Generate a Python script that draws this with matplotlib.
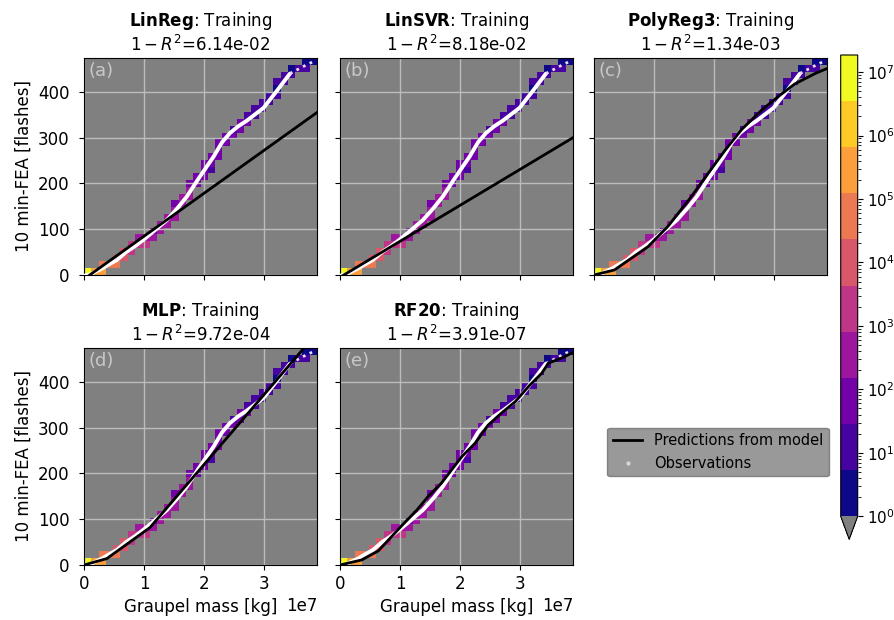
#!/usr/bin/env python3
# -*- coding: utf-8 -*-

'''Training fits of 10 min-FEA against graupel mass, five regression models.'''

##-Imports
import numpy as np
import matplotlib
matplotlib.use('Agg')
import matplotlib.pyplot as plt
from matplotlib.colors import ListedColormap, LogNorm
from matplotlib.lines import Line2D


##-Data
models = ['LinReg', 'LinSVR', 'PolyReg3', 'MLP', 'RF20']
scores = ['6.14e-02', '8.18e-02', '1.34e-03', '9.72e-04', '3.91e-07']
tags = ['(a)', '(b)', '(c)', '(d)', '(e)']

mass_max = 3.88e7
fea_max = 474.0
n_bins = 32

# observations (mass in 1e7 kg, flashes)
obs_mass = [0.03, 0.1, 0.2, 0.3, 0.4, 0.55, 0.7, 0.85, 1.0, 1.2, 1.38, 1.55, 1.71,
            1.93, 2.16, 2.3, 2.43, 2.57, 2.71, 2.99, 3.21, 3.43, 3.66, 3.8]
obs_fea = [0, 1, 8, 14, 22, 33, 50, 63, 78, 100, 120, 145, 171,
           215, 259, 290, 310, 325, 337, 365, 402, 440, 456, 465]

# 2D histogram of observations (column, row, count)
cell_col = [0, 1, 2, 2, 3, 4, 4, 5, 5, 6, 6, 7, 7, 8, 8, 9, 9, 10, 10, 11, 11,
            12, 12, 12, 13, 13, 14, 14, 14, 15, 15, 16, 16, 16, 17, 17, 17,
            18, 18, 18, 19, 19, 20, 20, 21, 21, 22, 22, 23, 23, 24, 24, 25, 25,
            26, 26, 26, 27, 27, 28, 28, 29, 30, 30, 31]
cell_row = [0, 0, 0, 1, 1, 1, 2, 2, 3, 3, 4, 4, 5, 4, 5, 5, 6, 6, 7, 7, 8,
            8, 9, 10, 10, 11, 11, 12, 13, 13, 14, 14, 15, 16, 15, 16, 17,
            17, 18, 19, 19, 20, 20, 21, 21, 22, 22, 23, 23, 24, 24, 25, 25, 26,
            26, 27, 28, 28, 29, 29, 30, 30, 30, 31, 31]
cell_count = [18600000, 250000, 250000, 50000, 50000, 50000, 10000, 10000, 10000,
              1800, 1800, 1800, 350, 1800, 350, 350, 60, 350, 350, 350, 350,
              350, 350, 60, 350, 350, 350, 350, 60, 60, 60, 60, 60, 60, 12, 60, 60,
              60, 60, 60, 60, 60, 60, 12, 60, 60, 60, 12, 12, 12, 12, 12, 12, 12,
              12, 2, 12, 12, 12, 12, 2, 12, 12, 2, 2]

# model predictions (mass in 1e7 kg, flashes)
linreg_mass = [0.0, 3.88]
linreg_fea = [-9, 355]
linsvr_mass = [0.0, 3.88]
linsvr_fea = [-5, 300]
poly_mass = [0.0, 0.34, 0.9, 1.23, 1.62, 1.9, 2.18, 2.46, 2.79, 3.07, 3.34, 3.68, 3.88]
poly_fea = [0, 11, 62, 106, 171, 222, 272, 318, 360, 390, 417, 440, 451]
mlp_mass = [0.0, 0.38, 1.1, 3.88]
mlp_fea = [0, 14, 82, 507]
rf_mass = [0.0, 0.36, 0.64, 1.0, 1.28, 1.47, 1.69, 1.86, 2.03, 2.25, 2.47, 2.69,
           2.92, 3.14, 3.36, 3.47, 3.69, 3.86]
rf_fea = [0, 11, 31, 82, 120, 150, 179, 208, 237, 266, 306, 332,
          357, 390, 419, 441, 452, 463]


##-Figure
def panel_axes(fig, left, top):
    '''Axes from pixel position (left, top) on a 895x620 canvas.'''
    return fig.add_axes([left / 895, (620 - top - 217) / 620, 233 / 895, 217 / 620])


fig = plt.figure(figsize=(8.95, 6.2), dpi=100)

positions = [(84, 58), (340, 58), (594, 58), (84, 348), (340, 348)]
preds = [(linreg_mass, linreg_fea), (linsvr_mass, linsvr_fea), (poly_mass, poly_fea),
         (mlp_mass, mlp_fea), (rf_mass, rf_fea)]

counts = np.zeros((n_bins, n_bins))
counts[cell_row, cell_col] = cell_count
counts = np.ma.masked_equal(counts, 0)
mass_edges = np.linspace(0, mass_max, n_bins + 1)
fea_edges = np.linspace(0, fea_max, n_bins + 1)

cmap = ListedColormap(plt.cm.plasma(np.linspace(0, 1, 10)))
cmap.set_under('gray')
norm = LogNorm(vmin=1, vmax=max(cell_count))

obs_x = np.array(obs_mass) * 1e7
cut = 22

for i, (left, top) in enumerate(positions):
    ax = panel_axes(fig, left, top)
    ax.set_facecolor('gray')
    mesh = ax.pcolormesh(mass_edges, fea_edges, counts, cmap=cmap, norm=norm)
    ax.grid(True, color='#bcbcbc', lw=1)

    ax.plot(obs_x[:cut], obs_fea[:cut], color='white', lw=2.8, solid_capstyle='round', zorder=3)
    ax.plot(obs_x[cut - 1:], obs_fea[cut - 1:], color='#e8dcf0', lw=2, ls=':', zorder=3)
    ax.plot(np.array(preds[i][0]) * 1e7, preds[i][1], color='black', lw=2, zorder=4)

    ax.set_xlim(0, mass_max)
    ax.set_ylim(0, fea_max)
    ax.set_xticks([0, 1e7, 2e7, 3e7])
    ax.set_yticks([0, 100, 200, 300, 400])
    ax.tick_params(labelsize=12)
    ax.tick_params(axis='y', pad=7)
    ax.xaxis.offsetText.set_fontsize(12)

    ax.set_title(r'$\bf{' + models[i] + '}$: Training\n' + r'$1-R^2$=' + scores[i],
                 fontsize=12, pad=5)
    ax.text(0.02, 0.98, tags[i], transform=ax.transAxes, ha='left', va='top',
            fontsize=13, color='#c8c8c8')

    if i < 3:
        ax.tick_params(labelbottom=False)
        ax.xaxis.offsetText.set_visible(False)
    else:
        ax.set_xlabel('Graupel mass [kg]', fontsize=12, labelpad=4)
    if i in (0, 3):
        ax.set_ylabel('10 min-FEA [flashes]', fontsize=12)
    else:
        ax.tick_params(labelleft=False)

#---Colorbar
cax = fig.add_axes([840.7 / 895, (620 - 539.3) / 620, 17 / 895, (539.3 - 55) / 620])
cbar = fig.colorbar(mesh, cax=cax, extend='min')
cbar.ax.tick_params(labelsize=11)
cbar.ax.yaxis.get_offset_text().set_visible(False)
cbar.ax.xaxis.get_offset_text().set_visible(False)

#---Legend
handles = [Line2D([], [], color='black', lw=2),
           Line2D([], [], color='#d8d8d8', marker='o', ms=2, ls='')]
fig.legend(handles, ['Predictions from model', 'Observations'], loc='center',
           bbox_to_anchor=(718 / 895, 1 - 452 / 620), fontsize=10.5,
           facecolor='gray', edgecolor='#707070', framealpha=0.8)

fig.savefig('out.png', dpi=100)
